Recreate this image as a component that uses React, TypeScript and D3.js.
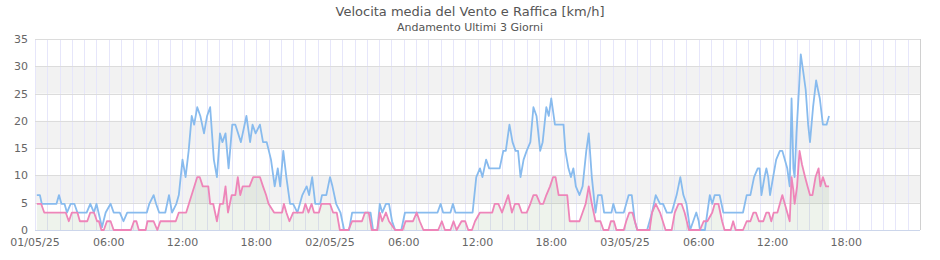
import React from "react";
import * as d3 from "d3";

const TITLE = "Velocita media del Vento e Raffica [km/h]";
const SUBTITLE = "Andamento Ultimi 3 Giorni";

const xTickHours = [0, 6, 12, 18, 24, 30, 36, 42, 48, 54, 60, 66];
const xTickLabels = ["01/05/25", "06:00", "12:00", "18:00", "02/05/25", "06:00", "12:00", "18:00", "03/05/25", "06:00", "12:00", "18:00"];
const yTicks = [0, 5, 10, 15, 20, 25, 30, 35];
const bands: [number, number][] = [[5, 10], [15, 20], [25, 30]];

// Raffica (gust) [hours since 01/05/25 00:00, km/h]
const gust: [number, number][] = [
  [0.15, 6.4], [0.4, 6.4], [0.55, 4.8], [1.75, 4.8], [1.95, 6.4], [2.15, 4.8], [2.4, 4.8], [2.6, 3.2],
  [2.9, 4.8], [3.2, 4.8], [3.45, 3.2], [4.2, 3.2], [4.5, 4.8], [4.8, 3.2], [5.0, 4.8], [5.45, 0.5],
  [5.75, 3.2], [6.15, 4.8], [6.4, 3.2], [6.9, 3.2], [7.2, 1.6], [7.5, 3.2], [9.1, 3.2], [9.3, 4.8],
  [9.65, 6.4], [9.85, 4.8], [10.1, 3.2], [10.6, 3.2], [10.9, 6.4], [11.15, 3.2], [11.5, 4.8], [11.7, 6.4],
  [12.0, 12.9], [12.25, 9.7], [12.5, 14.5], [12.75, 20.9], [12.95, 19.3], [13.2, 22.5], [13.45, 20.9],
  [13.75, 17.7], [14.0, 20.9], [14.25, 22.5], [14.55, 12.9], [14.8, 9.7], [15.05, 17.7], [15.25, 16.1],
  [15.5, 17.7], [15.75, 11.3], [16.05, 19.3], [16.3, 19.3], [16.75, 16.1], [17.2, 20.9], [17.5, 16.1],
  [17.7, 19.3], [17.95, 17.7], [18.3, 19.3], [18.55, 16.1], [18.85, 16.1], [19.2, 12.9], [19.5, 8.0],
  [19.75, 11.3], [19.95, 8.0], [20.2, 14.5], [20.45, 9.7], [20.75, 4.8], [21.0, 4.8], [21.35, 3.2],
  [21.75, 6.4], [22.1, 8.0], [22.3, 6.4], [22.55, 9.7], [22.8, 4.8], [23.2, 4.8], [23.35, 6.4],
  [23.7, 6.4], [24.0, 9.7], [24.2, 8.0], [24.5, 4.8], [24.85, 3.2], [25.15, 0], [25.55, 0], [25.8, 3.2],
  [27.3, 3.2], [27.5, 0], [27.85, 0], [28.05, 4.8], [28.25, 3.2], [28.55, 4.8], [28.8, 4.8], [29.05, 1.6],
  [29.3, 0], [29.8, 0], [30.1, 3.2], [32.75, 3.2], [33.0, 4.8], [33.2, 3.2], [33.8, 3.2], [34.0, 4.8],
  [34.2, 3.2], [35.6, 3.2], [35.9, 9.7], [36.2, 11.3], [36.4, 9.7], [36.7, 12.9], [36.95, 11.3],
  [37.8, 11.3], [38.1, 14.5], [38.3, 14.5], [38.6, 19.3], [38.85, 16.1], [39.1, 14.5], [39.3, 14.5],
  [39.5, 9.7], [39.75, 12.9], [40.0, 14.5], [40.3, 16.1], [40.55, 22.5], [40.8, 20.9], [41.1, 14.5],
  [41.3, 16.1], [41.6, 22.5], [41.8, 20.9], [42.0, 24.1], [42.3, 19.3], [43.0, 19.3], [43.15, 14.5],
  [43.4, 11.3], [43.6, 9.7], [43.8, 11.3], [44.0, 8.0], [44.3, 6.4], [44.55, 8.0], [44.85, 14.5],
  [45.05, 17.7], [45.3, 9.7], [45.6, 3.2], [45.8, 6.4], [46.1, 6.4], [46.3, 3.2], [46.9, 3.2],
  [47.05, 4.8], [47.25, 3.2], [47.9, 3.2], [48.3, 6.4], [48.55, 6.4], [48.8, 1.6], [49.0, 0], [49.8, 0],
  [50.2, 3.2], [50.5, 6.4], [50.85, 4.8], [51.1, 4.8], [51.4, 3.2], [51.8, 3.2], [52.2, 6.4],
  [52.5, 9.7], [52.75, 6.4], [53.0, 4.8], [53.3, 0], [53.55, 1.6], [53.8, 3.2], [54.0, 1.6], [54.1, 0],
  [54.5, 0], [54.7, 3.2], [54.9, 6.4], [55.1, 4.8], [55.3, 6.4], [55.7, 6.4], [56.0, 3.2], [57.6, 3.2],
  [57.9, 6.4], [58.2, 6.4], [58.5, 9.7], [58.8, 11.3], [58.95, 11.3], [59.1, 6.4], [59.35, 9.7],
  [59.5, 11.3], [59.65, 9.7], [59.8, 6.4], [60.05, 9.7], [60.3, 12.9], [60.6, 14.5], [60.8, 14.5],
  [61.0, 12.9], [61.2, 11.3], [61.4, 8.0], [61.55, 24.1], [61.7, 11.3], [61.8, 9.7], [61.95, 17.7],
  [62.15, 25.7], [62.3, 32.2], [62.5, 29.0], [62.7, 25.7], [62.9, 19.3], [63.05, 16.1], [63.3, 22.5],
  [63.55, 27.4], [63.7, 25.7], [63.85, 24.1], [64.1, 19.3], [64.4, 19.3], [64.6, 20.9],
];

// Velocita media (mean speed) [hours, km/h]
const mean: [number, number][] = [
  [0.15, 4.8], [0.5, 4.8], [0.75, 3.2], [2.5, 3.2], [2.75, 1.6], [3.0, 3.2], [3.45, 3.2], [3.65, 1.6],
  [4.25, 1.6], [4.5, 3.2], [4.8, 3.2], [5.05, 1.6], [5.2, 1.6], [5.4, 0], [5.6, 0], [5.85, 1.6],
  [6.15, 1.6], [6.4, 0], [7.8, 0], [8.05, 1.6], [8.25, 1.6], [8.45, 0], [9.0, 0], [9.15, 1.6],
  [9.65, 1.6], [9.95, 0], [10.2, 1.6], [11.45, 1.6], [11.7, 3.2], [12.3, 3.2], [13.2, 9.7], [13.4, 9.7],
  [13.65, 8.0], [14.1, 8.0], [14.25, 4.8], [14.5, 4.8], [14.8, 1.6], [15.05, 4.8], [15.3, 4.8],
  [15.5, 8.0], [15.7, 3.2], [16.0, 6.4], [16.3, 6.4], [16.5, 9.7], [16.7, 6.4], [16.9, 8.0],
  [17.45, 8.0], [17.75, 9.7], [18.3, 9.7], [18.55, 8.0], [18.8, 6.4], [19.0, 4.8], [19.45, 3.2],
  [20.1, 3.2], [20.25, 4.8], [20.45, 3.2], [20.7, 1.6], [21.0, 3.2], [21.8, 3.2], [22.0, 4.8],
  [22.25, 3.2], [22.5, 4.8], [22.7, 3.2], [23.1, 3.2], [23.3, 4.8], [24.0, 4.8], [24.25, 3.2],
  [24.55, 3.2], [24.8, 0], [25.5, 0], [25.8, 1.6], [26.6, 1.6], [26.85, 3.2], [27.15, 3.2], [27.4, 0],
  [27.85, 0], [28.05, 3.2], [28.25, 1.6], [28.55, 3.2], [28.8, 1.6], [29.3, 0], [29.9, 0], [30.15, 1.6],
  [30.75, 1.6], [31.05, 3.2], [31.3, 1.6], [31.6, 0], [32.8, 0], [33.1, 1.6], [33.35, 0], [33.8, 0],
  [34.05, 1.6], [34.3, 0], [34.7, 1.6], [35.0, 1.6], [35.25, 0], [35.55, 0], [35.8, 1.6], [36.2, 3.2],
  [37.2, 3.2], [37.4, 4.8], [37.7, 4.8], [38.0, 3.2], [38.25, 4.8], [38.5, 6.4], [38.8, 3.2],
  [39.05, 4.8], [39.35, 4.8], [39.6, 3.2], [40.0, 3.2], [40.3, 4.8], [40.55, 6.4], [40.8, 6.4],
  [41.1, 4.8], [41.35, 4.8], [41.6, 6.4], [41.9, 8.0], [42.15, 9.7], [42.35, 9.7], [42.6, 6.4],
  [43.3, 6.4], [43.5, 1.6], [44.3, 1.6], [44.55, 3.2], [44.8, 4.8], [45.05, 8.0], [45.3, 4.8],
  [45.6, 1.6], [46.0, 1.6], [46.25, 0], [46.65, 0], [46.85, 1.6], [47.1, 1.6], [47.3, 0], [47.9, 0],
  [48.1, 1.6], [48.35, 3.2], [48.6, 3.2], [49.0, 0], [50.0, 0], [50.2, 3.2], [50.5, 4.8], [50.85, 3.2],
  [51.3, 0], [51.8, 0], [52.05, 3.2], [52.35, 4.8], [52.6, 4.8], [52.85, 3.2], [53.2, 0], [54.1, 0],
  [54.4, 1.6], [54.7, 1.6], [55.1, 3.2], [55.3, 4.8], [55.6, 4.8], [55.9, 1.6], [56.1, 0], [56.6, 0],
  [56.8, 1.6], [57.0, 0], [57.6, 0], [57.9, 1.6], [58.2, 1.6], [58.45, 3.2], [58.65, 3.2], [58.9, 1.6],
  [59.25, 1.6], [59.5, 3.2], [59.7, 3.2], [59.9, 1.6], [60.1, 3.2], [60.4, 3.2], [60.6, 4.8],
  [60.8, 6.4], [61.0, 4.8], [61.2, 3.2], [61.4, 1.6], [61.55, 9.7], [61.7, 7.2], [61.8, 4.8],
  [62.0, 8.0], [62.2, 14.5], [62.4, 12.0], [62.65, 9.7], [62.85, 8.0], [63.05, 6.4], [63.25, 6.4],
  [63.5, 9.7], [63.75, 11.3], [63.9, 8.0], [64.1, 9.7], [64.35, 8.0], [64.6, 8.0],
];

const W = 940;
const H = 260;
const M = { left: 35, right: 920, top: 39, bottom: 230 };
const FONT = "'DejaVu Sans', Verdana, sans-serif";

export default function App() {
  const x = d3.scaleLinear().domain([0, 72]).range([M.left, M.right]);
  const y = d3.scaleLinear().domain([0, 35]).range([M.bottom, M.top]);
  const hours = d3.range(0, 73);

  const line = d3.line<[number, number]>().x((d) => x(d[0])).y((d) => y(d[1]));
  const area = d3
    .area<[number, number]>()
    .x((d) => x(d[0]))
    .y0(y(0))
    .y1((d) => y(d[1]));

  return (
    <svg
      width={W}
      height={H}
      style={{ position: "absolute", left: 0, top: 0, background: "#fff" }}
      fontFamily={FONT}
    >
      <rect x={0} y={0} width={W} height={H} fill="#fff" />
      <text x={W / 2} y={16} textAnchor="middle" fontSize={13} fill="#555">
        {TITLE}
      </text>
      <text x={W / 2} y={31} textAnchor="middle" fontSize={11} fill="#555">
        {SUBTITLE}
      </text>

      {bands.map(([a, b]) => (
        <rect key={a} x={M.left} y={y(b)} width={M.right - M.left} height={y(a) - y(b)} fill="#f2f2f2" />
      ))}

      {hours.map((h) => (
        <line
          key={"v" + h}
          x1={Math.round(x(h)) + 0.5}
          x2={Math.round(x(h)) + 0.5}
          y1={M.top}
          y2={M.bottom}
          stroke="#e6e6fa"
          strokeWidth={1}
        />
      ))}

      {yTicks.map((t) => (
        <g key={"y" + t}>
          <line
            x1={M.left}
            x2={M.right}
            y1={Math.round(y(t)) + 0.5}
            y2={Math.round(y(t)) + 0.5}
            stroke="#dcdcdc"
            strokeWidth={1}
          />
          <text x={28} y={y(t) + 4} textAnchor="end" fontSize={11} fill="#666">
            {t}
          </text>
        </g>
      ))}

      <line x1={M.right + 0.5} x2={M.right + 0.5} y1={M.top} y2={M.bottom} stroke="#d0d0d0" />
      <line x1={M.left} x2={M.right} y1={M.bottom + 0.5} y2={M.bottom + 0.5} stroke="#ccd6eb" />

      <path d={area(mean) || ""} fill="#90b080" fillOpacity={0.15} />
      <path d={line(gust) || ""} fill="none" stroke="#88bbee" strokeWidth={1.8} strokeLinejoin="round" />
      <path d={line(mean) || ""} fill="none" stroke="#ee85b9" strokeWidth={1.8} strokeLinejoin="round" />

      {xTickHours.map((h, i) => (
        <text key={"x" + i} x={x(h)} y={246} textAnchor="middle" fontSize={11} fill="#666">
          {xTickLabels[i]}
        </text>
      ))}
    </svg>
  );
}
